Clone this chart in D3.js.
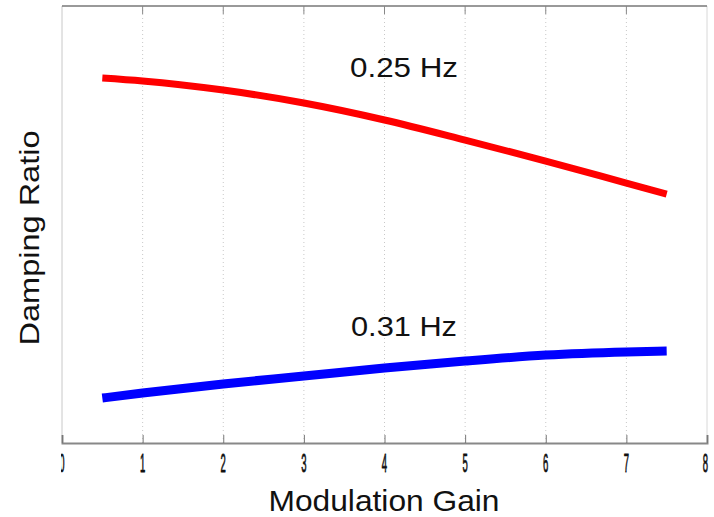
<!DOCTYPE html>
<html><head><meta charset="utf-8">
<script src="https://cdn.jsdelivr.net/npm/d3@7"></script>
<style>body{margin:0;background:#fff}svg{display:block}text{font-family:Arial,"Liberation Sans",sans-serif}</style>
</head><body><svg id="c" width="714" height="517"></svg>
<script>
const gain = [0.5, 1, 2, 3, 4, 5, 6, 7, 7.5];
const ratio025 = [0.2088, 0.2071, 0.2019, 0.1945, 0.1848, 0.1733, 0.1613, 0.1487, 0.1424];
const ratio031 = [0.0257, 0.0286, 0.0338, 0.0383, 0.0429, 0.0469, 0.0503, 0.0521, 0.0526];
const xTicks = [0, 1, 2, 3, 4, 5, 6, 7, 8];
const seriesLabels = ["0.25 Hz", "0.31 Hz"];

const svg = d3.select("#c");
const L = 62, R = 707, T = 6, B = 443;
const x = d3.scaleLinear().domain([0, 8]).range([L, R]);
const y = d3.scaleLinear().domain([0, 0.25]).range([B, T]);

// grid
svg.selectAll("line.grid").data(xTicks.filter(d => d > 0 && d < 8)).enter().append("line")
  .attr("x1", d => x(d)).attr("x2", d => x(d)).attr("y1", T).attr("y2", B)
  .attr("stroke", "#c8c8c8").attr("stroke-width", 1).attr("stroke-dasharray", "1,3");

// frame
svg.append("line").attr("x1", L).attr("x2", L).attr("y1", T).attr("y2", B).attr("stroke", "#c8c8c8");
svg.append("line").attr("x1", R).attr("x2", R).attr("y1", T).attr("y2", B).attr("stroke", "#d8d8d8");
svg.append("line").attr("x1", L).attr("x2", R).attr("y1", T).attr("y2", T).attr("stroke", "#777").attr("stroke-width", 1.5);

// bottom axis
const ax = svg.append("g").attr("transform", `translate(0,${B})`)
  .call(d3.axisBottom(x).tickValues(xTicks).tickSize(-8).tickFormat(""));
ax.select(".domain").attr("stroke", "#888").attr("stroke-width", 2);
ax.selectAll(".tick line").attr("stroke", "#777");
// top ticks
svg.selectAll("line.tt").data(xTicks.filter(d => d > 0 && d < 8)).enter().append("line")
  .attr("x1", d => x(d)).attr("x2", d => x(d)).attr("y1", T).attr("y2", T + 8)
  .attr("stroke", "#888");

// tick labels (condensed)
svg.append("clipPath").attr("id", "lc").append("rect").attr("x", L - 1).attr("y", 440).attr("width", 700).attr("height", 45);
const tl = svg.append("g").attr("clip-path", "url(#lc)");
tl.selectAll("text").data(xTicks).enter().append("text")
  .attr("transform", d => `translate(${Math.min(x(d), 705.5)},472) scale(0.38,1)`)
  .attr("text-anchor", "middle")
  .attr("font-size", 25).attr("fill", "#111").attr("stroke", "#111").attr("stroke-width", 0.8)
  .text(d => d);

// lines
const line = d3.line().x((d, i) => x(gain[i])).y(d => y(d)).curve(d3.curveMonotoneX);
svg.append("path").datum(ratio025).attr("d", line).attr("fill", "none")
  .attr("stroke", "#ff0000").attr("stroke-width", 7);
svg.append("path").datum(ratio031).attr("d", line).attr("fill", "none")
  .attr("stroke", "#0000ff").attr("stroke-width", 9);

// labels
function label(tx, ty, size, len, txt, rot) {
  const t = svg.append("text").attr("transform", `translate(${tx},${ty})` + (rot ? " rotate(-90)" : ""))
    .attr("text-anchor", "middle").style("font-size", size + "px").attr("fill", "#111")
    .attr("textLength", len).attr("lengthAdjust", "spacingAndGlyphs").text(txt);
  return t;
}
label(404, 77, 28, 108, seriesLabels[0]);
label(404, 336, 28, 106, seriesLabels[1]);
label(384, 511, 30, 231, "Modulation Gain");
label(39, 238, 28, 215, "Damping Ratio", true);
</script></body></html>
